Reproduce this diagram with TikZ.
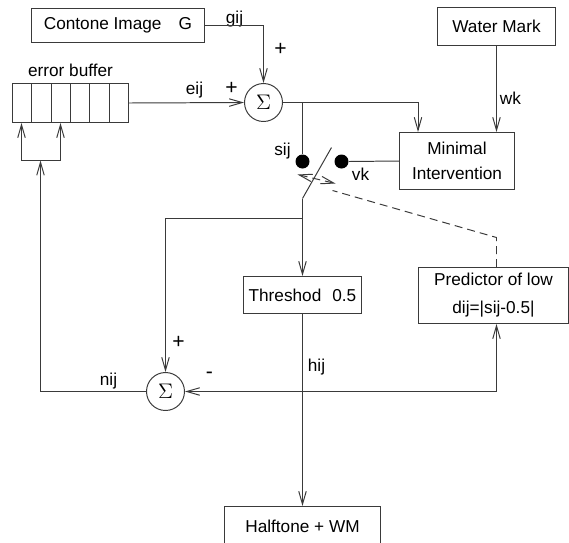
\documentclass[tikz,border=0pt]{standalone}
\usepackage{fontspec}
\setmainfont{Liberation Sans}
\usetikzlibrary{arrows.meta, positioning, calc}
\definecolor{ln}{HTML}{3A3A3A}
\newcommand{\lblfont}{\fontsize{9.8}{14}\selectfont}
\tikzset{
  blk/.style  = {rectangle, draw=ln, line width=0.56pt, inner sep=0pt,
                 align=center, font=\lblfont},
  sumn/.style = {circle, draw=ln, line width=0.56pt, inner sep=0pt,
                 minimum size=0.76cm, font=\fontsize{12.5}{14}\selectfont},
  cnt/.style  = {circle, fill=black, inner sep=0pt, minimum size=0.28cm},
  lbl/.style  = {inner sep=0pt, font=\lblfont},
  sgn/.style  = {inner sep=0pt, font=\fontsize{12}{14}\selectfont},
  arr/.style  = {-{Straight Barb[length=0.26cm, width=0.15cm]}, draw=ln,
                 line width=0.56pt},
  barr/.style = {{Straight Barb[length=0.26cm, width=0.15cm]}-{Straight Barb[length=0.26cm, width=0.15cm]},
                 draw=ln, line width=0.56pt},
  dsh/.style  = {dash pattern=on 0.16cm off 0.1cm},
}

\begin{document}
\begin{tikzpicture}[x=0.02cm, y=-0.02cm, draw=ln, line width=0.56pt]
  \useasboundingbox (-0.5,-0.5) rectangle (568.5,541.5);

  \node[blk, minimum width=3.46cm, minimum height=0.68cm] (contone) at (117.5,25) {Contone Image\quad G};
  \node[blk, minimum width=2.36cm, minimum height=0.76cm] (water) at (496,26) {Water Mark};
  \node[sumn] (sumA) at (263,102) {$\Sigma$};
  \node[blk, minimum width=2.32cm, minimum height=0.78cm] (buffer) at (70,102.5) {};
  \node[lbl, above=0.12cm of buffer] (buftxt) {error buffer};
  \node[blk, minimum width=2.3cm, minimum height=1.14cm] (minint) at (456.5,160.5) {Minimal\\Intervention};
  \node[cnt] (dotS) at (302,161) {};
  \node[cnt] (dotV) at (341,161) {};
  \node[blk, minimum width=2.36cm, minimum height=0.74cm] (thresh) at (302,294.5) {Threshod\hspace{0.64em}0.5};
  \node[blk, minimum width=3.0cm, minimum height=1.12cm] (pred) at (493,295) {Predictor of low\\[2pt]dij=|sij-0.5|};
  \node[sumn] (sumB) at (165,391) {$\Sigma$};
  \node[blk, minimum width=3.12cm, minimum height=0.78cm] (halftone) at (302,525.5) {Halftone + WM};

  % buffer cells
  \foreach \dx in {19,39,58,77,97}
    \draw ($(buffer.north west)+(\dx,0)$) -- ($(buffer.south west)+(\dx,0)$);

  % signal labels
  \node[lbl] (gij) at (234,19) {gij};
  \node[lbl] (eij) at (194,90) {eij};
  \node[lbl] (wk)  at (510,98) {wk};
  \node[lbl] (sij) at (282,151) {sij};
  \node[lbl] (vk)  at (360,174) {vk};
  \node[lbl] (hij) at (316,367) {hij};
  \node[lbl] (nij) at (108,381) {nij};
  \node[sgn] (pA) at (280,49) {+};
  \node[sgn] (pB) at (231,88) {+};
  \node[sgn] (pC) at (178,342) {+};
  \node[sgn] (mC) at (209,375) {-};

  \coordinate (jA)  at (dotS |- sumA.east);
  \coordinate (swT) at (331,147);
  \coordinate (swB) at (302,198);
  \coordinate (jB)  at (302,218);
  \coordinate (fbL) at (21,160);
  \coordinate (fbM) at (40,160);
  \coordinate (fbR) at (60,160);
  \coordinate (ctlL) at (297,174);
  \coordinate (ctlR) at (335,183);
  \coordinate (ctlE) at (332,190);
  \coordinate (ctlK) at (496,237);

  \draw[arr] (contone.east) -| (sumA.north);
  \draw[arr] (buffer.east) -- (sumA.west);
  \draw[arr] (sumA.east) -| ($(minint.north west)+(19,0)$);
  \draw (jA) -- (dotS.north);
  \draw[arr] (water.south) -- (water |- minint.north);
  \draw (dotV.east) -- (minint.west);

  % switch
  \draw (swT) -- (swB);
  \draw[arr] (swB) -- (thresh.north);
  \draw[arr] (jB) -| (sumB.north);
  \draw[arr] (thresh.south) -- (halftone.north);
  \draw[barr] (sumB.east) -| (water.south |- pred.south);

  % error feedback
  \draw[arr] (sumB.west) -| (fbM);
  \draw (fbL) -- (fbR);
  \draw[arr] (fbL) -- (fbL |- buffer.south);
  \draw[arr] (fbR) -- (fbR |- buffer.south);

  % switch control
  \draw[barr, dsh] (ctlL) -- (ctlR);
  \draw[dsh] (water.south |- pred.north) -- (ctlK) -- (ctlE);

\end{tikzpicture}
\end{document}
